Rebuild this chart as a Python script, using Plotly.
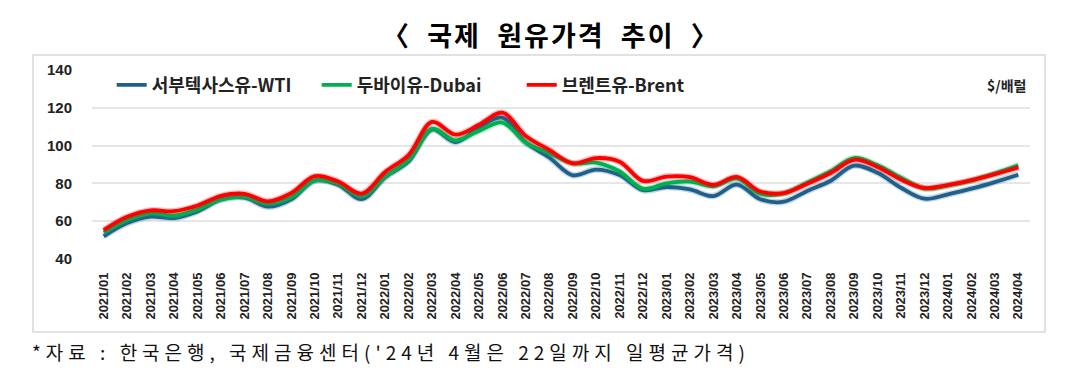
import plotly.graph_objects as go

months = [f"{y}/{m:02d}" for y in (2021, 2022, 2023) for m in range(1, 13)] + [f"2024/{m:02d}" for m in range(1, 5)]

wti = [52.0, 59.0, 62.4, 61.7, 65.2, 71.4, 72.5, 67.7, 71.6, 81.5, 79.2, 71.7,
       83.2, 91.6, 108.5, 101.8, 109.6, 114.8, 101.6, 93.7, 84.3, 87.3, 84.4, 76.4,
       78.1, 76.8, 73.3, 79.4, 71.6, 70.3, 76.0, 81.4, 89.4, 85.6, 77.7, 71.9,
       74.2, 77.2, 80.7, 84.6]
dubai = [54.0, 60.6, 64.2, 62.9, 66.3, 71.6, 72.9, 69.3, 72.6, 81.6, 80.0, 73.2,
         83.5, 92.4, 108.8, 102.8, 107.8, 112.2, 101.5, 96.0, 90.6, 91.0, 86.3, 77.2,
         80.0, 81.0, 78.5, 82.6, 74.5, 74.7, 80.4, 86.5, 93.4, 89.6, 83.0, 77.3,
         78.9, 81.5, 85.2, 89.6]
brent = [55.3, 62.3, 65.7, 65.3, 68.3, 73.4, 74.5, 70.5, 74.9, 83.8, 81.0, 74.6,
         86.0, 95.0, 112.5, 105.8, 111.0, 117.4, 105.1, 97.7, 90.6, 93.4, 91.5, 81.3,
         83.6, 83.3, 79.2, 83.4, 75.7, 74.9, 79.8, 85.5, 92.5, 88.7, 82.0, 77.6,
         79.1, 81.7, 84.9, 88.4]

series = [
    ("<b>서부텍사스유-WTI</b>", wti, "#1F5F8B"),
    ("<b>두바이유-Dubai</b>", dubai, "#00B050"),
    ("<b>브렌트유-Brent</b>", brent, "#FF0000"),
]

fig = go.Figure()
for name, vals, col in series:
    fig.add_trace(go.Scatter(x=months, y=vals, mode="lines", showlegend=False,
                             hoverinfo="skip",
                             line=dict(color=col, width=6.5, shape="spline", smoothing=1.0),
                             opacity=0.25))
    fig.add_trace(go.Scatter(x=months, y=vals, mode="lines", name=name,
                             line=dict(color=col, width=3.8, shape="spline", smoothing=1.0)))

# page body has an 8px margin, so the layout is offset by -8px
fig.update_layout(
    width=1089, height=385,
    margin=dict(l=84, r=67, t=62, b=134),
    paper_bgcolor="white", plot_bgcolor="white",
    font=dict(family="Arial, Liberation Sans, sans-serif", color="#222222"),
    legend=dict(orientation="h", x=0.021, y=0.92, xanchor="left", yanchor="middle",
                font=dict(family="Noto Sans CJK KR", size=18, color="#222222"),
                bgcolor="rgba(0,0,0,0)", tracegroupgap=0, itemwidth=30,
                entrywidth=160, entrywidthmode="pixels"),
    showlegend=True,
)
fig.update_xaxes(type="category", range=[-0.5, len(months) - 0.5], tickangle=-90,
                 tickfont=dict(size=13, family="Arial, Liberation Sans", weight="bold", color="#222222"),
                 showgrid=False, showline=False, ticks="", ticklabelstandoff=10)
fig.update_yaxes(range=[40, 140], dtick=20, showgrid=True, gridcolor="#e6e6e6", gridwidth=1.5,
                 zeroline=False, showline=False,
                 tickfont=dict(size=15, family="Arial, Liberation Sans", weight="bold", color="#222222"),
                 ticklabelstandoff=19)

# outer frame
fig.add_shape(type="rect", xref="paper", yref="paper", x0=-0.0629, x1=1.016, y0=-0.386, y1=1.079,
              line=dict(color="#d9d9d9", width=1.5), fillcolor="rgba(0,0,0,0)", layer="below")

fig.add_annotation(xref="paper", yref="paper", x=0.489, y=1.19,
                   text="<b><span style='letter-spacing:2px'>〈&nbsp;&nbsp;국제&nbsp;&nbsp;원유가격&nbsp;&nbsp;추이&nbsp;&nbsp;〉</span></b>",
                   showarrow=False, xanchor="center", yanchor="middle",
                   font=dict(family="Noto Sans CJK KR", size=27, color="#000000"))
fig.add_annotation(xref="paper", yref="paper", x=0.998, y=0.921, text="<b>$/배럴</b>",
                   showarrow=False, xanchor="right", yanchor="middle",
                   font=dict(family="Noto Sans CJK KR", size=14, color="#222222"))
fig.add_annotation(xref="paper", yref="paper", x=-0.066, y=-0.492,
                   text="<span style='letter-spacing:5px'>*자료 : 한국은행, 국제금융센터('24년 4월은 22일까지 일평균가격)</span>",
                   showarrow=False, xanchor="left", yanchor="middle",
                   font=dict(family="Noto Sans CJK KR", size=19, color="#111111"))

fig.write_html("out.html")
